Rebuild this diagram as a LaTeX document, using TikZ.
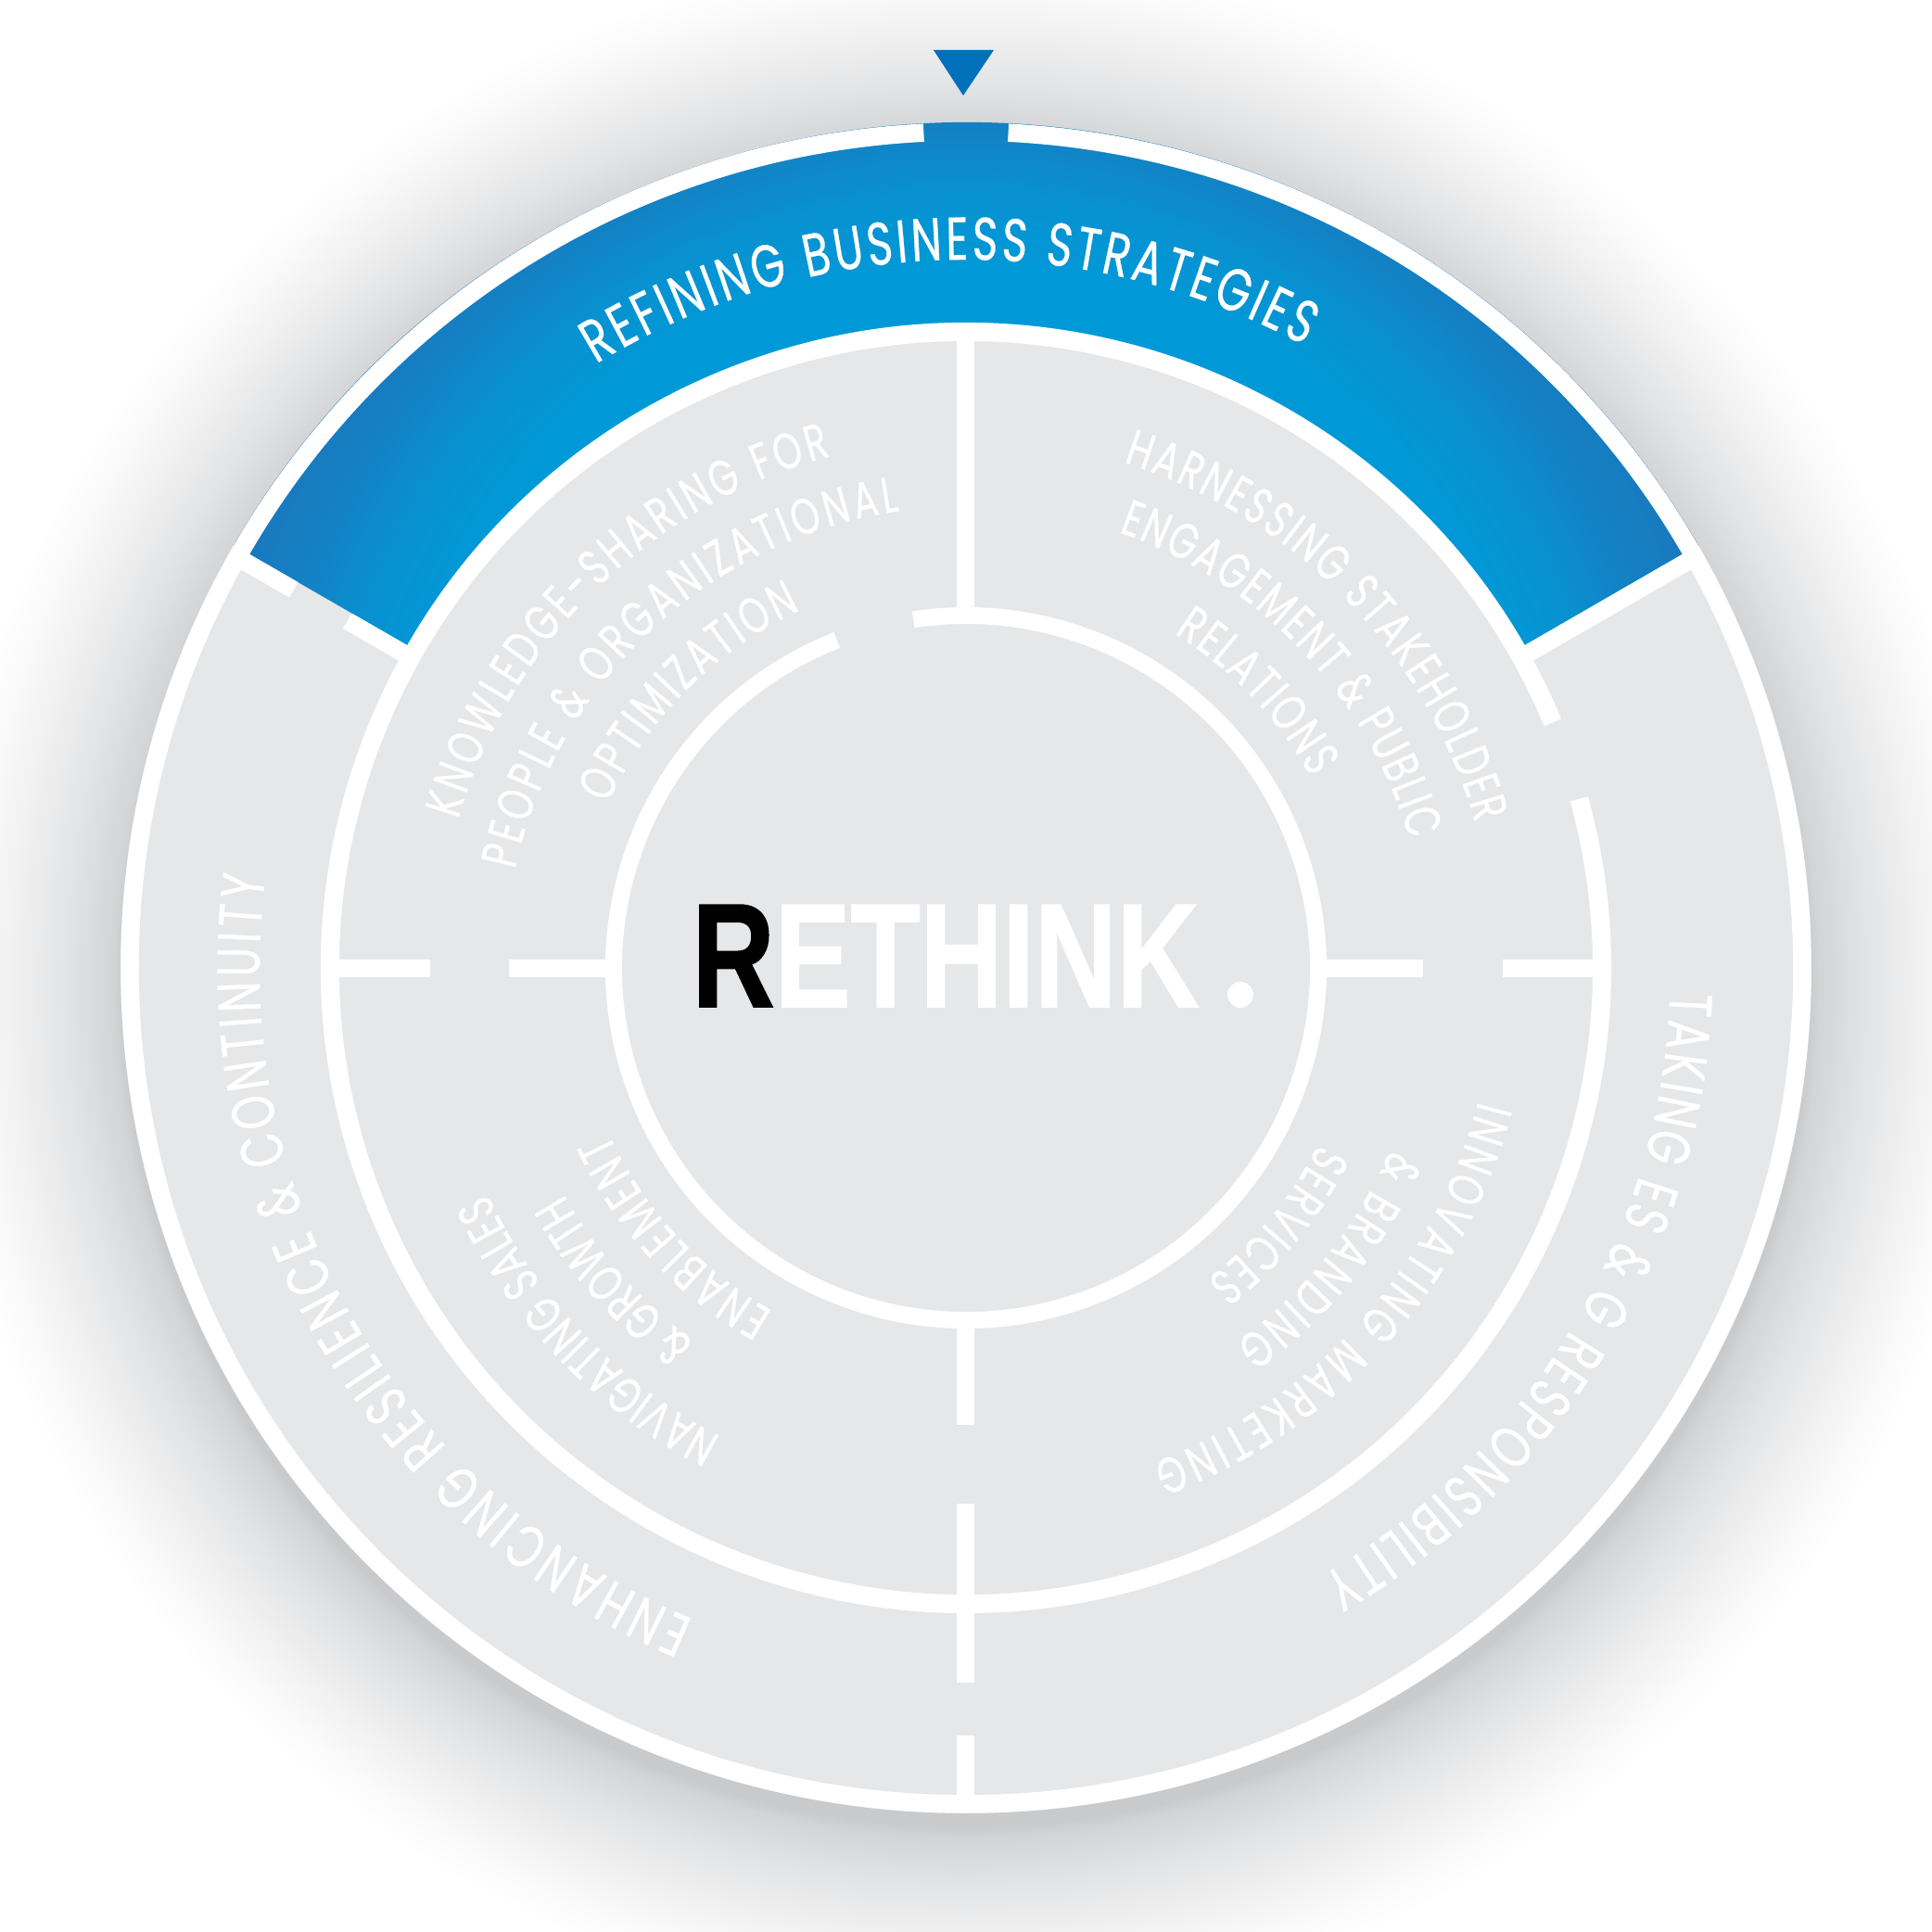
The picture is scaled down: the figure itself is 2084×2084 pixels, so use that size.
\documentclass[tikz,border=0pt]{standalone}
\usepackage{fontspec}
\usepackage{graphicx}
\usetikzlibrary{calc,decorations.text}
\setmainfont{Poppins}
\newfontfamily\ringfont{Poppins}[FakeStretch=0.72,FakeBold=0.5]
\newfontfamily\wordfont{Liberation Sans}[BoldFeatures={FakeBold=1.2}]
\definecolor{rethinkGray}{HTML}{E6E7E8}
\definecolor{rethinkMark}{HTML}{0070BA}
\definecolor{haloA}{HTML}{C9CACC}
\definecolor{haloB}{HTML}{D3D4D6}
\definecolor{haloC}{HTML}{E2E3E4}
\definecolor{haloD}{HTML}{F1F1F2}
\definecolor{haloE}{HTML}{FBFBFB}
\definecolor{glowA}{HTML}{0099D8}
\definecolor{glowB}{HTML}{0892D1}
\definecolor{glowC}{HTML}{1381C4}
\definecolor{glowD}{HTML}{1B76BC}
\definecolor{glowE}{HTML}{1D72B8}
\pgfdeclareradialshading{rethinkHalo}{\pgfpointorigin}{color(0bp)=(haloA); color(20.45bp)=(haloA);
  color(20.73bp)=(haloB); color(21.82bp)=(haloC); color(23.18bp)=(haloD); color(24.32bp)=(haloE);
  color(25bp)=(white); color(50bp)=(white)}
\pgfdeclareradialshading{rethinkGlow}{\pgfpointorigin}{color(0bp)=(glowA); color(15bp)=(glowA);
  color(17bp)=(glowB); color(19bp)=(glowC); color(21.25bp)=(glowD); color(25bp)=(glowE); color(50bp)=(glowE)}
\newcommand{\bigring}{\ringfont\fontsize{18.5}{21}\selectfont}
\newcommand{\smallring}{\ringfont\fontsize{15.5}{18}\selectfont}
\newcommand{\arclabel}[5]{\path[decorate,decoration={text along path,text align={fit to path},
  text color=white,text={|#4|#5}}] (#2:#1) arc[start angle=#2,end angle=#3,radius=#1];}

\begin{document}
\begin{tikzpicture}[x=0.1mm,y=0.1mm,
    rule/.style={white,line width=1.9mm},
    ring/.style={white,line width=#1}]
  \useasboundingbox (-1042,-1040) rectangle (1042,1044);
  \fill[white] (-1042,-1040) rectangle (1042,1044);
  \coordinate (O) at (0,0);
  \shade[shading=rethinkHalo] (0,-18) circle[radius=1110];
  \fill[rethinkGray] (O) circle[radius=912];
  \begin{scope}
    \clip (30:686) arc[start angle=30,end angle=150,radius=686] -- (150:912)
      arc[start angle=150,end angle=30,radius=912] -- cycle;
    \shade[shading=rethinkGlow] (0,150) circle[radius=1000];
  \end{scope}

  \draw[ring=1.95mm] (92.9:902) arc[start angle=92.9,end angle=447.1,radius=902];
  \draw[ring=2mm] (22.7:686) arc[start angle=22.7,end angle=375.4,radius=686];
  \draw[ring=1.8mm] (111.5:380) arc[start angle=111.5,end angle=458.6,radius=380];

  \draw[rule] (90:380) -- (90:686);
  \draw[rule] (180:380) -- (180:493) (180:578) -- (180:686);
  \draw[rule] (0:380) -- (0:493) (0:579) -- (0:686);
  \draw[rule] (270:380) -- (270:493) (270:578) -- (270:771) (270:828) -- (270:905);
  \draw[rule] ($(150:686)+(240:9.5)$) -- ($(150:765)+(240:9.5)$)
              ($(150:832)+(240:9.5)$) -- ($(150:905)+(240:9.5)$);
  \draw[rule] ($(30:686)+(-60:9.5)$) -- ($(30:905)+(-60:9.5)$);

  \arclabel{764}{121.5}{61.5}{\bigring}{REFINING BUSINESS STRATEGIES}
  \arclabel{760}{-2}{-59.7}{\bigring}{TAKING ES {\&} G RESPONSIBILITY}
  \arclabel{762}{247.3}{172.6}{\bigring}{ENHANCING RESILIENCE {\&} CONTINUITY}

  \arclabel{571}{163.7}{104.8}{\smallring}{KNOWLEDGE-SHARING FOR}
  \arclabel{498}{167.7}{98.3}{\smallring}{PEOPLE {\&} ORGANIZATIONAL}
  \arclabel{425}{155.4}{114.8}{\smallring}{OPTIMIZATION}

  \arclabel{571}{72.7}{15.9}{\smallring}{HARNESSING STAKEHOLDER}
  \arclabel{498}{70.7}{16.1}{\smallring}{ENGAGEMENT {\&} PUBLIC}
  \arclabel{425}{58.1}{28.9}{\smallring}{RELATIONS}

  \arclabel{571}{-14.6}{-69.4}{\smallring}{INNOVATING MARKETING}
  \arclabel{498}{-23.2}{-54.4}{\smallring}{{\&} BRANDING}
  \arclabel{425}{-26.5}{-52.4}{\smallring}{SERVICES}

  \arclabel{571}{242.4}{205.2}{\smallring}{NAVIGATING SALES}
  \arclabel{498}{233.9}{209.3}{\smallring}{{\&} GROWTH}
  \arclabel{425}{240.6}{204.8}{\smallring}{ENABLEMENT}

  \node[anchor=base west,inner sep=0pt] (word) at (-296,-42)
    {\scalebox{0.771}[1]{\wordfont\bfseries\fontsize{45.4}{46}\selectfont R\textcolor{white}{ETHINK}}};
  \fill[white] (296,-29) circle[radius=14];
  \fill[rethinkMark] (-35,990) -- (30,990) -- (-3,941) -- cycle;
\end{tikzpicture}
\end{document}
